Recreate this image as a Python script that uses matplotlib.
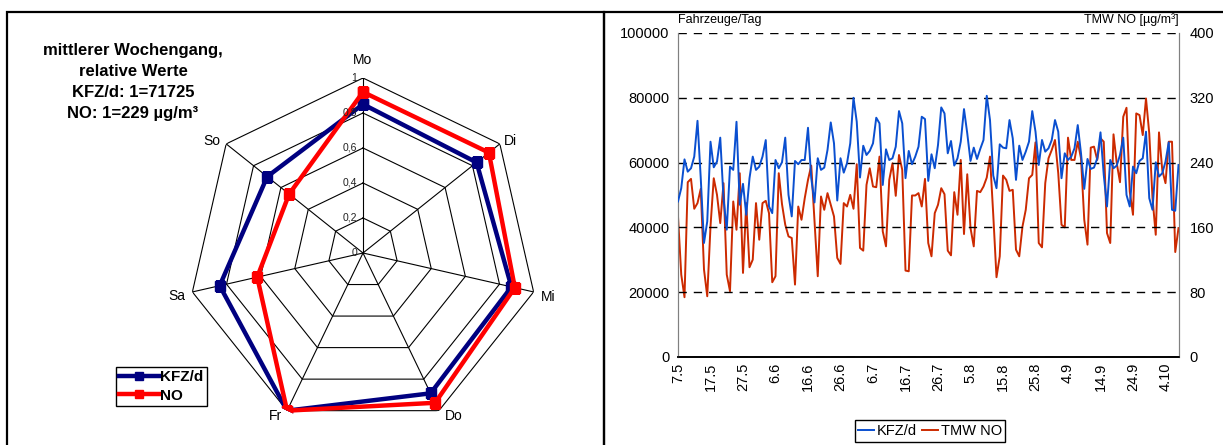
import numpy as np
import matplotlib
matplotlib.use("Agg")
import matplotlib.pyplot as plt
from matplotlib.patches import Rectangle

plt.rcParams['font.family'] = ['Liberation Sans', 'DejaVu Sans']

# --- mittlerer Wochengang (relativ) ---
wochentage = ['Mo', 'Di', 'Mi', 'Do', 'Fr', 'Sa', 'So']
kfz_rel = [0.85, 0.83, 0.87, 0.89, 1.0, 0.84, 0.70]
no_rel = [0.92, 0.92, 0.89, 0.95, 1.0, 0.62, 0.54]
radar_stufen = [0.2, 0.4, 0.6, 0.8, 1.0]
radar_labels = ['0', '0,2', '0,4', '0,6', '0,8', '1']
info_zeilen = ['mittlerer Wochengang,', 'relative Werte',
               'KFZ/d: 1=71725', 'NO: 1=229 µg/m³']

# --- Tageswerte 7.5. - 8.10. ---
kfz_tag = [
    48000, 52100, 61000, 57200, 58250, 61850, 72900, 55200, 35200, 41850,
    66450, 58550, 60300, 67700, 49000, 39300, 58750, 57750, 72600, 47000,
    53450, 43900, 55200, 61850, 57750, 58750, 61850, 66950, 46450, 44400,
    60800, 58250, 60100, 67700, 50050, 43400, 60500, 59500, 60800,
    60800, 70750, 55200, 47700, 61350, 57750, 58450, 63900, 72400, 65950,
    48300, 61350, 56900, 59800, 65950, 80000, 72600, 55400, 65200, 62350,
    63600, 65950, 73850, 72100, 53100, 64100, 60800, 61350, 64900, 75900,
    72100, 55200, 63600, 59500, 61850, 64900, 74150, 73450,
    54360, 62570, 58260, 65440, 77030, 75180, 62870, 66670, 59080,
    61330, 66460, 76510, 69030, 60510, 64620, 61130, 64210, 66980, 80615,
    73130, 56000, 52100, 65640, 64620, 64410, 73130, 67490, 54670, 65230,
    60820, 63380, 66460, 75900, 69540, 59280, 66980, 63380, 64410,
    66970, 73130, 69540, 55180, 62870, 60820, 61850, 64410, 71590, 62870,
    51900, 61130, 58050, 58460, 61330, 69330, 56210, 46460, 60820, 58260,
    59080, 62360, 67690, 50050, 46460, 58770, 56720, 60510, 61330, 69540,
    49030, 45440, 60100, 55690, 56720, 60310, 66260, 45440, 45130, 59280,
]
no_tag = [
    173.5, 101.7, 73.8, 215.8, 219.9, 183.0, 190.0, 207.6, 108.0, 75.0,
    161.2, 220.7, 200.2, 165.3, 214.6, 101.7, 81.2, 192.0, 157.1, 226.9,
    103.8, 190.0, 110.8, 120.2, 190.0, 144.8, 190.0, 192.8, 177.6, 92.3,
    99.7, 226.9, 188.7, 163.3, 148.9, 146.9, 89.4, 185.8, 169.4,
    196.1, 218.7, 236.3, 167.4, 99.7, 198.2, 181.7, 202.3, 187.9, 173.5,
    122.3, 114.9, 190.0, 185.8, 200.2, 183.0, 238.0, 134.6, 131.3, 212.5,
    233.0, 210.5, 209.6, 247.4, 155.1, 136.6, 218.7, 239.2, 199.0, 249.4,
    231.0, 106.7, 105.8, 199.4, 199.4, 202.3, 185.8, 219.9,
    140.7, 124.3, 177.6, 187.9, 208.4, 201.0, 131.3, 125.5, 203.5,
    175.6, 243.3, 151.8, 225.6, 159.2, 136.6, 205.1, 203.5, 210.5, 221.5,
    247.4, 175.6, 98.5, 124.3, 224.0, 218.7, 205.1, 206.4, 132.5, 124.3,
    161.2, 181.7, 220.7, 224.8, 265.0, 140.7, 135.4, 214.6, 245.3,
    255.6, 267.9, 226.9, 163.3, 160.0, 270.8, 243.3, 243.3, 265.8, 245.3,
    169.4, 138.7, 258.5, 259.7, 243.3, 270.0, 265.8, 153.0, 140.7, 274.9,
    239.2, 215.8, 296.6, 307.7, 204.3, 175.6, 300.7, 298.7, 274.0, 319.2,
    276.1, 196.1, 150.9, 277.3, 231.0, 214.6, 265.8, 265.8, 129.6, 159.2,
]
datum_labels = ['7.5', '17.5', '27.5', '6.6', '16.6', '26.6', '6.7', '16.7',
                '26.7', '5.8', '15.8', '25.8', '4.9', '14.9', '24.9', '4.10']

W, H = 1223, 445
fig = plt.figure(figsize=(W / 100, H / 100), dpi=100)

# panel frames
fig.add_artist(Rectangle((7 / W, -0.1), 597 / W, (H - 12) / H + 0.1,
                         transform=fig.transFigure, fill=False, ec='black', lw=1.6))
fig.add_artist(Rectangle((604 / W, -0.1), 0.6, (H - 12) / H + 0.1,
                         transform=fig.transFigure, fill=False, ec='black', lw=1.6))

# ---------------- radar ----------------
cx, cy, R = 363, 253, 175
ax = fig.add_axes([(cx - R) / W, (H - cy - R) / H, 2 * R / W, 2 * R / H], projection='polar')
ax.set_theta_zero_location('N')
ax.set_theta_direction(-1)
ax.set_ylim(0, 1)
ax.grid(False)
ax.set_xticks([])
ax.set_yticks([])
ax.spines['polar'].set_visible(False)
ax.patch.set_alpha(0)

n = len(wochentage)
theta = np.arange(n) * 2 * np.pi / n
theta_c = np.append(theta, theta[0])
for r in radar_stufen:
    ax.plot(theta_c, [r] * (n + 1), color='black', lw=0.8)
for t in theta:
    ax.plot([t, t], [0, 1], color='black', lw=0.8)

h_kfz, = ax.plot(theta_c, kfz_rel + kfz_rel[:1], color='#000080', lw=3.2,
                 marker='s', ms=6.5, label='KFZ/d')
h_no, = ax.plot(theta_c, no_rel + no_rel[:1], color='#ff0000', lw=3.2,
                marker='s', ms=6.5, label='NO')

for r, lab in zip([0] + radar_stufen, radar_labels):
    ax.annotate(lab, xy=(0, r), xytext=(-4, 0), textcoords='offset points',
                ha='right', va='center', fontsize=7.5, color='#222222')

offs = [((0, 13), 'center'), ((3, 2), 'left'), ((5, -3.5), 'left'), ((4, -4), 'left'),
        ((-3.5, -4), 'right'), ((-5, -3), 'right'), ((-4, 2), 'right')]
for t, lab, (o, ha) in zip(theta, wochentage, offs):
    ax.annotate(lab, xy=(t, 1), xytext=o, textcoords='offset points',
                ha=ha, va='center', fontsize=10)

for i, z in enumerate(info_zeilen):
    fig.text(133 / W, 1 - (51 + i * 20.7) / H, z, ha='center', va='center',
             fontsize=12, fontweight='bold')

fig.legend(handles=[h_kfz, h_no], loc='upper left', bbox_to_anchor=(116 / W, 1 - 367 / H),
           prop={'weight': 'bold', 'size': 11}, frameon=True, fancybox=False,
           edgecolor='black', framealpha=1, handlelength=2.6, handletextpad=0.1,
           borderpad=0.2, labelspacing=0.3, borderaxespad=0, markerscale=0.9)

# ---------------- time series ----------------
x0, x1, yt, yb = 678, 1178.5, 33, 357
ax1 = fig.add_axes([x0 / W, (H - yb) / H, (x1 - x0) / W, (yb - yt) / H])
ax2 = ax1.twinx()
tage = np.arange(len(kfz_tag))
l1, = ax1.plot(tage, kfz_tag, color='#0a4fd0', lw=1.4, label='KFZ/d', zorder=3)
l2, = ax2.plot(tage, no_tag, color='#cc2a00', lw=1.4, label='TMW NO', zorder=2)
ax1.set_zorder(ax2.get_zorder() + 1)
ax1.patch.set_visible(False)

ax1.set_xlim(0, len(kfz_tag) - 1)
ax1.set_ylim(0, 100000)
ax2.set_ylim(0, 400)
ax1.set_yticks(np.arange(0, 100001, 20000))
ax2.set_yticks(np.arange(0, 401, 80))
ax1.set_xticks(np.arange(0, len(datum_labels) * 10, 10))
ax1.set_xticklabels(datum_labels, rotation=90)
ax1.tick_params(length=0, labelsize=10.5, pad=6)
ax2.tick_params(length=0, labelsize=10.5, pad=8)
ax1.tick_params(axis='x', pad=4)
ax1.yaxis.grid(True, color='black', ls=(0, (6, 5)), lw=1)
ax1.set_axisbelow(True)
for a in (ax1, ax2):
    a.spines['top'].set_visible(False)
    a.spines['left'].set_color('#808080')
    a.spines['right'].set_color('#808080')
    a.spines['bottom'].set_color('black')
    a.spines['bottom'].set_linewidth(1.2)

fig.text(x0 / W, 1 - 20 / H, 'Fahrzeuge/Tag', ha='left', va='center', fontsize=9)
fig.text(x1 / W, 1 - 20 / H, 'TMW NO [µg/m³]', ha='right', va='center', fontsize=9)

fig.legend(handles=[l1, l2], loc='center', bbox_to_anchor=(930 / W, 1 - 431 / H), ncol=2,
           fontsize=10.5, frameon=True, fancybox=False, edgecolor='black', framealpha=1,
           handlelength=1.1, handletextpad=0.15, columnspacing=0.4, borderpad=0.25,
           borderaxespad=0)

fig.savefig('out.png', dpi=100)
